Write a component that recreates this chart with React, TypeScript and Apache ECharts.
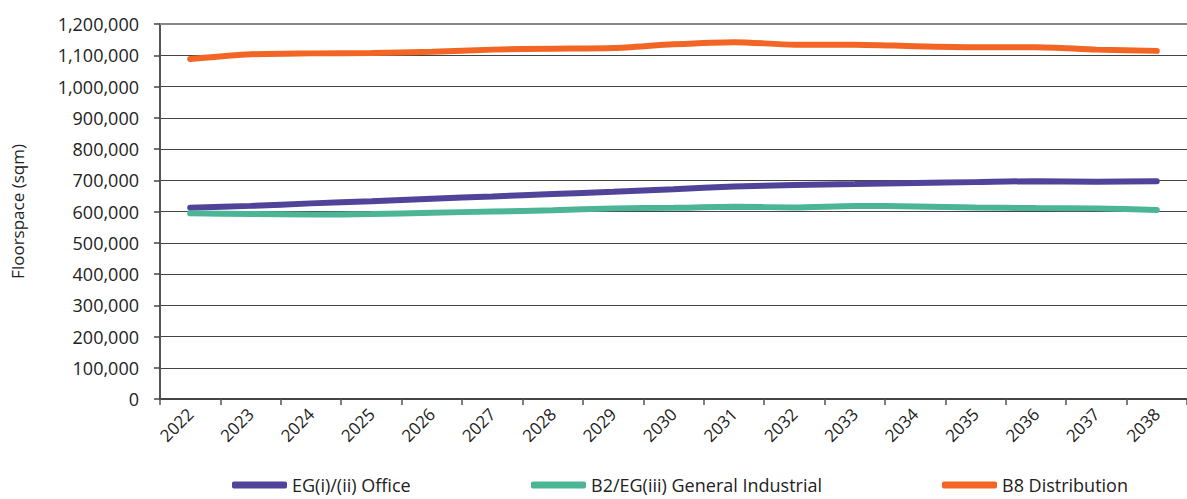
import React, { useEffect, useRef } from "react";
import * as echarts from "echarts";

const years = [
  "2022", "2023", "2024", "2025", "2026", "2027", "2028", "2029", "2030",
  "2031", "2032", "2033", "2034", "2035", "2036", "2037", "2038",
];

const officeName = "EG(i)/(ii) Office";
const industrialName = "B2/EG(iii) General Industrial";
const distributionName = "B8 Distribution";

const office = [
  612000, 618000, 626000, 633000, 641000, 648000, 656000, 663000, 671000,
  680000, 685000, 688000, 691000, 694000, 697000, 695000, 697000,
];
const industrial = [
  594000, 592000, 590000, 592000, 596000, 600000, 604000, 610000, 612000,
  615000, 613000, 618000, 616000, 613000, 611000, 610000, 605000,
];
const distribution = [
  1088000, 1103000, 1106000, 1107000, 1111000, 1118000, 1121000, 1123000, 1135000,
  1142000, 1134000, 1134000, 1129000, 1126000, 1126000, 1118000, 1114000,
];

const colors = {
  office: "#4F4499",
  industrial: "#4BB596",
  distribution: "#F26524",
};

const FONT = "'Open Sans', 'Noto Sans', sans-serif";

export default function App() {
  const ref = useRef<HTMLDivElement>(null);

  useEffect(() => {
    if (!ref.current) return;
    const chart = echarts.init(ref.current, undefined, { renderer: "svg" });

    const lineSeries = (name: string, data: number[], color: string) => ({
      name,
      type: "line",
      data,
      smooth: 0.25,
      showSymbol: false,
      symbol: "none",
      lineStyle: { color, width: 6, cap: "round" },
      itemStyle: { color },
    });

    const legendBase = {
      top: 476,
      padding: 0,
      icon: "roundRect",
      itemWidth: 55,
      itemHeight: 7,
      itemGap: 0,
      textStyle: { fontFamily: FONT, fontSize: 18, color: "#222" },
    };

    chart.setOption({
      animation: false,
      backgroundColor: "#ffffff",
      grid: { left: 160, right: -11, top: 24, bottom: 100, containLabel: false },
      legend: [
        { ...legendBase, left: 232, data: [officeName] },
        { ...legendBase, left: 531, data: [industrialName] },
        { ...legendBase, left: 942, data: [distributionName] },
      ],
      xAxis: [
        {
          type: "category",
          data: years,
          boundaryGap: true,
          position: "bottom",
          axisLine: { lineStyle: { color: "#444", width: 2 } },
          axisTick: { show: true, length: 6, lineStyle: { color: "#555", width: 1.5 } },
          axisLabel: {
            rotate: 45,
            fontFamily: FONT,
            fontSize: 17,
            color: "#222",
            margin: 12,
            interval: 0,
          },
          splitLine: { show: false },
        },
        {
          type: "category",
          data: years,
          position: "top",
          axisLine: { lineStyle: { color: "#888", width: 2 } },
          axisTick: { show: false },
          axisLabel: { show: false },
          splitLine: { show: false },
        },
      ],
      yAxis: {
        type: "value",
        min: 0,
        max: 1200000,
        interval: 100000,
        name: "Floorspace (sqm)",
        nameLocation: "middle",
        nameGap: 134,
        nameRotate: 90,
        nameTextStyle: { fontFamily: FONT, fontSize: 17, color: "#222" },
        axisLine: { show: true, lineStyle: { color: "#555", width: 2 } },
        axisTick: { show: true, length: 6, lineStyle: { color: "#444", width: 1.5 } },
        axisLabel: {
          fontFamily: FONT,
          fontSize: 18,
          color: "#222",
          margin: 21,
          formatter: (v: number) => v.toLocaleString("en-GB"),
        },
        splitLine: { show: true, lineStyle: { color: "#444", width: 1 } },
      },
      series: [
        lineSeries(officeName, office, colors.office),
        lineSeries(industrialName, industrial, colors.industrial),
        lineSeries(distributionName, distribution, colors.distribution),
      ],
    });

    return () => chart.dispose();
  }, []);

  return (
    <div
      ref={ref}
      style={{ position: "absolute", left: 0, top: 0, width: 1187, height: 499 }}
    />
  );
}
